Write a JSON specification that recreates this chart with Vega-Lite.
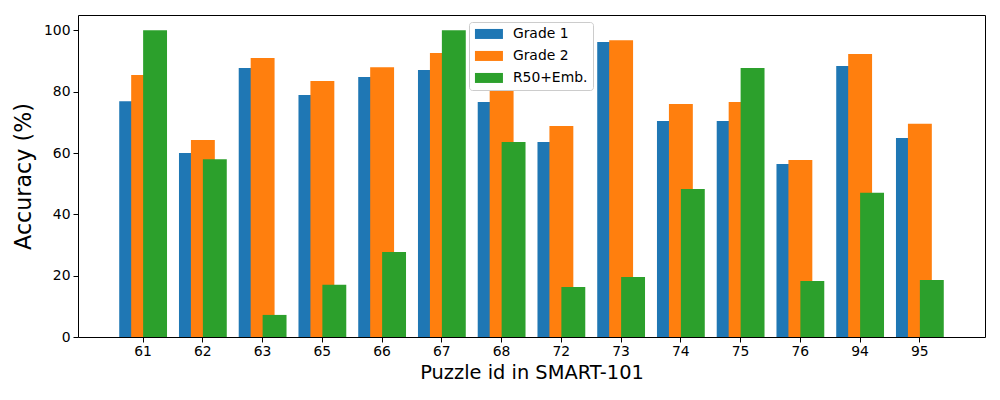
{
  "$schema": "https://vega.github.io/schema/vega-lite/v6.json",
  "width": 907,
  "height": 322,
  "autosize": {"type": "none"},
  "padding": {"left": 78, "top": 15, "right": 15, "bottom": 63},
  "background": "white",
  "config": {
    "font": "DejaVu Sans",
    "view": {"stroke": "black", "strokeWidth": 1}
  },
  "data": {
    "values": [
      {"puzzle": "61", "model": "Grade 1", "acc": 76.9},
      {"puzzle": "62", "model": "Grade 1", "acc": 60.0},
      {"puzzle": "63", "model": "Grade 1", "acc": 87.7},
      {"puzzle": "65", "model": "Grade 1", "acc": 78.9},
      {"puzzle": "66", "model": "Grade 1", "acc": 84.8},
      {"puzzle": "67", "model": "Grade 1", "acc": 87.1},
      {"puzzle": "68", "model": "Grade 1", "acc": 76.6},
      {"puzzle": "72", "model": "Grade 1", "acc": 63.6},
      {"puzzle": "73", "model": "Grade 1", "acc": 96.2},
      {"puzzle": "74", "model": "Grade 1", "acc": 70.4},
      {"puzzle": "75", "model": "Grade 1", "acc": 70.4},
      {"puzzle": "76", "model": "Grade 1", "acc": 56.4},
      {"puzzle": "94", "model": "Grade 1", "acc": 88.4},
      {"puzzle": "95", "model": "Grade 1", "acc": 64.9},
      {"puzzle": "61", "model": "Grade 2", "acc": 85.4},
      {"puzzle": "62", "model": "Grade 2", "acc": 64.2},
      {"puzzle": "63", "model": "Grade 2", "acc": 91.0},
      {"puzzle": "65", "model": "Grade 2", "acc": 83.5},
      {"puzzle": "66", "model": "Grade 2", "acc": 88.0},
      {"puzzle": "67", "model": "Grade 2", "acc": 92.6},
      {"puzzle": "68", "model": "Grade 2", "acc": 85.0},
      {"puzzle": "72", "model": "Grade 2", "acc": 68.8},
      {"puzzle": "73", "model": "Grade 2", "acc": 96.8},
      {"puzzle": "74", "model": "Grade 2", "acc": 76.0},
      {"puzzle": "75", "model": "Grade 2", "acc": 76.6},
      {"puzzle": "76", "model": "Grade 2", "acc": 57.7},
      {"puzzle": "94", "model": "Grade 2", "acc": 92.3},
      {"puzzle": "95", "model": "Grade 2", "acc": 69.5},
      {"puzzle": "61", "model": "R50+Emb.", "acc": 100.0},
      {"puzzle": "62", "model": "R50+Emb.", "acc": 58.0},
      {"puzzle": "63", "model": "R50+Emb.", "acc": 7.2},
      {"puzzle": "65", "model": "R50+Emb.", "acc": 17.0},
      {"puzzle": "66", "model": "R50+Emb.", "acc": 27.7},
      {"puzzle": "67", "model": "R50+Emb.", "acc": 100.0},
      {"puzzle": "68", "model": "R50+Emb.", "acc": 63.6},
      {"puzzle": "72", "model": "R50+Emb.", "acc": 16.3},
      {"puzzle": "73", "model": "R50+Emb.", "acc": 19.6},
      {"puzzle": "74", "model": "R50+Emb.", "acc": 48.3},
      {"puzzle": "75", "model": "R50+Emb.", "acc": 87.7},
      {"puzzle": "76", "model": "R50+Emb.", "acc": 18.3},
      {"puzzle": "94", "model": "R50+Emb.", "acc": 47.0},
      {"puzzle": "95", "model": "R50+Emb.", "acc": 18.6}
    ]
  },
  "mark": {"type": "bar", "width": 23.9},
  "encoding": {
    "x": {
      "field": "puzzle",
      "type": "ordinal",
      "sort": null,
      "title": "Puzzle id in SMART-101",
      "scale": {"paddingInner": 0.4, "paddingOuter": 0.79},
      "axis": {
        "labelAngle": 0,
        "labelFontSize": 13.9,
        "labelColor": "black",
        "labelPadding": 2,
        "tickColor": "black",
        "tickSize": 5,
        "domain": false,
        "titleFontSize": 19.4,
        "titleFontWeight": "normal",
        "titleColor": "black",
        "titlePadding": 6
      }
    },
    "xOffset": {
      "field": "model",
      "type": "nominal",
      "scale": {"domain": ["Grade 1", "Grade 2", "R50+Emb."], "paddingInner": 0, "paddingOuter": 0}
    },
    "y": {
      "field": "acc",
      "type": "quantitative",
      "title": "Accuracy (%)",
      "scale": {"domain": [0, 105], "nice": false},
      "axis": {
        "values": [0, 20, 40, 60, 80, 100],
        "grid": false,
        "domain": false,
        "labelFontSize": 13.9,
        "labelColor": "black",
        "labelPadding": 3,
        "tickColor": "black",
        "tickSize": 5,
        "titleFontSize": 22.2,
        "titleFontWeight": "normal",
        "titleColor": "black",
        "titlePadding": 8
      }
    },
    "color": {
      "field": "model",
      "type": "nominal",
      "scale": {
        "domain": ["Grade 1", "Grade 2", "R50+Emb."],
        "range": ["#1f77b4", "#ff7f0e", "#2ca02c"]
      },
      "legend": {
        "title": null,
        "orient": "none",
        "legendX": 391,
        "legendY": 7,
        "symbolType": "M-2.8,-1H2.8V1H-2.8Z",
        "symbolSize": 100,
        "symbolOffset": 8,
        "symbolStrokeWidth": 0,
        "symbolOpacity": 1,
        "labelOffset": 17,
        "labelFontSize": 13.9,
        "labelColor": "black",
        "rowPadding": 7,
        "padding": 5,
        "strokeColor": "#cccccc",
        "fillColor": "white",
        "cornerRadius": 3
      }
    }
  }
}
